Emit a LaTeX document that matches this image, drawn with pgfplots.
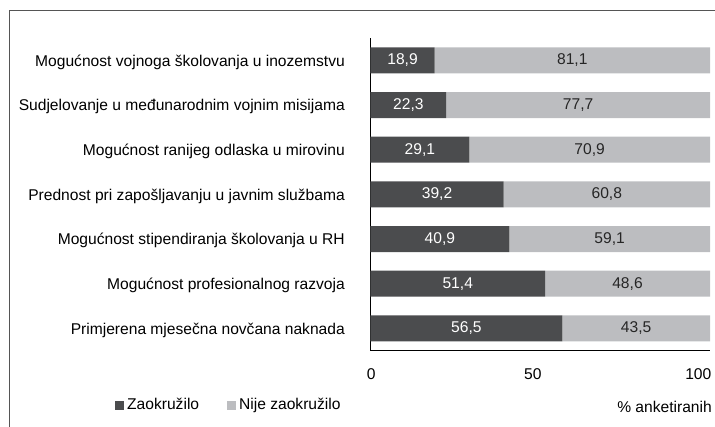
\documentclass[border=0pt]{standalone}
\usepackage{fontspec}
\setmainfont{Liberation Sans}
\usepackage{pgfplots}
\usepackage{pgfplotstable}
\pgfplotsset{compat=1.18}
\definecolor{darkbar}{HTML}{4B4C4E}
\definecolor{lightbar}{HTML}{BCBDC0}
\definecolor{framec}{HTML}{555555}
\newcommand{\myfont}{\fontsize{15.6pt}{18pt}\selectfont}
\pgfplotstableread{
y a b
7 18.9 81.1
6 22.3 77.7
5 29.1 70.9
4 39.2 60.8
3 40.9 59.1
2 51.4 48.6
1 56.5 43.5
}\datatab
\begin{document}
\begin{tikzpicture}[font=\myfont]
\path[use as bounding box] (0,0) rectangle (715pt,427pt);
\draw[framec, line width=1pt] (9.3pt,0pt) -- (9.3pt,416pt) -- (715pt,416pt);
\begin{axis}[
  at={(370.5pt,76.3pt)}, anchor=south west,
  scale only axis, width=339.5pt, height=312.7pt,
  xbar stacked, bar width=26pt,
  xmin=0, xmax=100, ymin=0.5, ymax=7.5,
  axis x line=bottom, axis y line=left,
  axis line style={-, line width=1.6pt, black},
  major tick length=0pt,
  xtick={0,50,100},
  xticklabels={\makebox[0pt]{0},50,100},
  x tick label style={anchor=base east, inner sep=0pt, xshift=1.5pt, yshift=-29.3pt, font=\myfont},
  ytick={1,2,3,4,5,6,7},
  yticklabels={
    Primjerena mjesečna novčana naknada,
    Mogućnost profesionalnog razvoja,
    Mogućnost stipendiranja školovanja u RH,
    Prednost pri zapošljavanju u javnim službama,
    Mogućnost ranijeg odlaska u mirovinu,
    Sudjelovanje u međunarodnim vojnim misijama,
    Mogućnost vojnoga školovanja u inozemstvu},
  y tick label style={anchor=base east, inner sep=0pt, xshift=-25.5pt, yshift=-5.7pt, font=\myfont},
  xlabel={\% anketiranih},
  x label style={at={(axis description cs:1,0)}, anchor=base east, inner sep=0pt, xshift=2pt, yshift=-62.3pt, font=\myfont},
  /pgf/number format/.cd, use comma, fixed, fixed zerofill, precision=1, assume math mode=true,
  /pgfplots/.cd,
  legend columns=2,
  legend style={draw=none, fill=none, inner sep=0pt, font=\myfont,
    at={(axis description cs:-0.7526,-0.1737)}, anchor=west,
    nodes={inner sep=0pt},
    /tikz/every odd column/.append style={column sep=3pt},
    /tikz/every even column/.append style={column sep=28pt}},
  legend image code/.code={\fill[#1] (0pt,-4.5pt) rectangle (9pt,4.5pt);},
]
\addplot[fill=darkbar, draw=none, nodes near coords, point meta=explicit,
  every node near coord/.append style={color=white, font=\myfont}]
  table[x=a, y=y, meta=a] {\datatab};
\addlegendentry{Zaokružilo}
\addplot[fill=lightbar, draw=none, nodes near coords, point meta=explicit,
  every node near coord/.append style={color=black!85, font=\myfont}]
  table[x=b, y=y, meta=b] {\datatab};
\addlegendentry{Nije zaokružilo}
\end{axis}
\end{tikzpicture}
\end{document}
